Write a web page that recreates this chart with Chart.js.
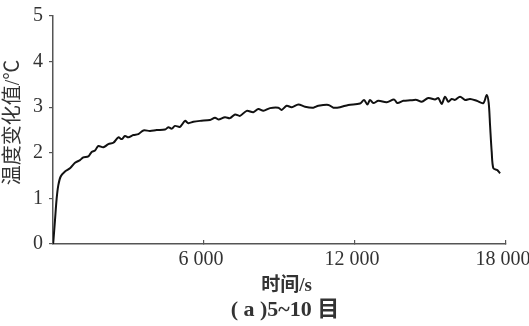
<!DOCTYPE html>
<html>
<head>
<meta charset="utf-8">
<script src="https://cdn.jsdelivr.net/npm/chart.js@4/dist/chart.umd.min.js"></script>
<style>
  html, body { margin: 0; padding: 0; background: #fff; }
  #wrap { width: 529px; height: 326px; position: relative; }
</style>
</head>
<body>
<div id="wrap"><canvas id="c"></canvas></div>
<script>
// 시간(s) — 그림에서 읽은 값
const timeS = [
  0, 13, 80, 146, 212, 305, 477, 675, 874, 1073,
  1205, 1404, 1536, 1669, 1801, 2000, 2199, 2398, 2597, 2729,
  2861, 2993, 3192, 3391, 3590, 3855, 4120, 4451, 4583, 4716,
  4848, 5047, 5246, 5378, 5577, 5842, 6239, 6438, 6570, 6835,
  7034, 7233, 7431, 7696, 7961, 8160, 8358, 8623, 8954, 9086,
  9285, 9484, 9749, 10014, 10345, 10544, 10942, 11140, 11405, 11736,
  12200, 12359, 12491, 12597, 12730, 12928, 13260, 13551, 13684, 13922,
  14187, 14452, 14650, 14915, 15180, 15312, 15445, 15578, 15710, 15843,
  15975, 16174, 16373, 16571, 16836, 17101, 17233, 17313, 17366, 17432,
  17498, 17657, 17763
];

// 온도 변화값(℃)
const tempDelta = [
  0, 0.05, 0.53, 1.0, 1.29, 1.48, 1.59, 1.66, 1.78, 1.84,
  1.9, 1.92, 2.02, 2.05, 2.15, 2.12, 2.19, 2.22, 2.34, 2.30,
  2.37, 2.34, 2.39, 2.41, 2.49, 2.48, 2.5, 2.51, 2.56, 2.53,
  2.59, 2.57, 2.70, 2.65, 2.68, 2.70, 2.72, 2.77, 2.73, 2.78,
  2.76, 2.84, 2.81, 2.92, 2.89, 2.96, 2.92, 2.98, 2.99, 2.94,
  3.03, 3.0, 3.06, 3.01, 2.99, 3.03, 3.05, 2.99, 3.0, 3.05,
  3.08, 3.16, 3.06, 3.16, 3.09, 3.14, 3.11, 3.17, 3.09, 3.14,
  3.15, 3.16, 3.12, 3.2, 3.17, 3.2, 3.07, 3.23, 3.12, 3.18,
  3.16, 3.23, 3.16, 3.18, 3.14, 3.09, 3.27, 3.09, 2.61, 2.02,
  1.66, 1.62, 1.55
];

// 축 눈금
const xTicks = [6000, 12000, 18000];
const yTicks = [0, 1, 2, 3, 4, 5];

// 제목 (앞의 공백은 가운데 위치 보정용)
const xTitle = "   时间/s";
const yTitle = "   温度变化值/℃";
const caption = "  ( a )5~10 目";

const points = timeS.map((t, i) => ({ x: t, y: tempDelta[i] }));

const textColor = "#333";
const axisColor = "#555";
const serif = "'Liberation Serif', 'Noto Sans CJK SC', serif";

new Chart(document.getElementById("c"), {
  type: "line",
  data: {
    datasets: [{
      data: points,
      borderColor: "#111",
      borderWidth: 2,
      pointRadius: 0,
      tension: 0.3,
      fill: false
    }]
  },
  options: {
    responsive: true,
    maintainAspectRatio: false,
    animation: false,
    layout: { padding: { left: 0, top: 16, right: 23, bottom: 0 } },
    plugins: {
      legend: { display: false },
      tooltip: { enabled: false },
      title: {
        display: true,
        text: caption,
        position: "bottom",
        fullSize: false,
        color: textColor,
        font: { family: serif, size: 22, weight: "bold" },
        padding: { top: 0, bottom: 2.6 }
      }
    },
    scales: {
      x: {
        type: "linear",
        min: 0,
        max: 18000,
        afterBuildTicks: s => { s.ticks = xTicks.map(v => ({ value: v })); },
        afterFit: s => { s.height = 53; s.paddingLeft = 0; s.paddingRight = 0; },
        grid: {
          drawOnChartArea: false,
          tickLength: -4,
          color: axisColor,
          lineWidth: 1.2
        },
        border: { color: axisColor, width: 1.5 },
        ticks: {
          color: textColor,
          padding: 8,
          labelOffset: -3,
          maxRotation: 0,
          font: { family: serif, size: 20 },
          callback: v => String(v).replace(/\B(?=(\d{3})+(?!\d))/g, " ")
        },
        title: {
          display: true,
          text: xTitle,
          color: textColor,
          font: { family: serif, size: 19, weight: "bold" },
          padding: { top: 0, bottom: 0 }
        }
      },
      y: {
        min: 0,
        max: 5,
        afterBuildTicks: s => { s.ticks = yTicks.map(v => ({ value: v })); },
        afterFit: s => { s.width = 53; s.paddingTop = 0; s.paddingBottom = 0; },
        grid: {
          drawOnChartArea: false,
          tickLength: 4,
          color: axisColor,
          lineWidth: 1.2
        },
        border: { color: axisColor, width: 1.5 },
        ticks: {
          color: textColor,
          padding: 6,
          font: { family: serif, size: 20 }
        },
        title: {
          display: true,
          text: yTitle,
          color: textColor,
          font: { family: serif, size: 20, weight: "normal" },
          padding: { top: 2, bottom: 0 }
        }
      }
    }
  }
});
</script>
</body>
</html>
